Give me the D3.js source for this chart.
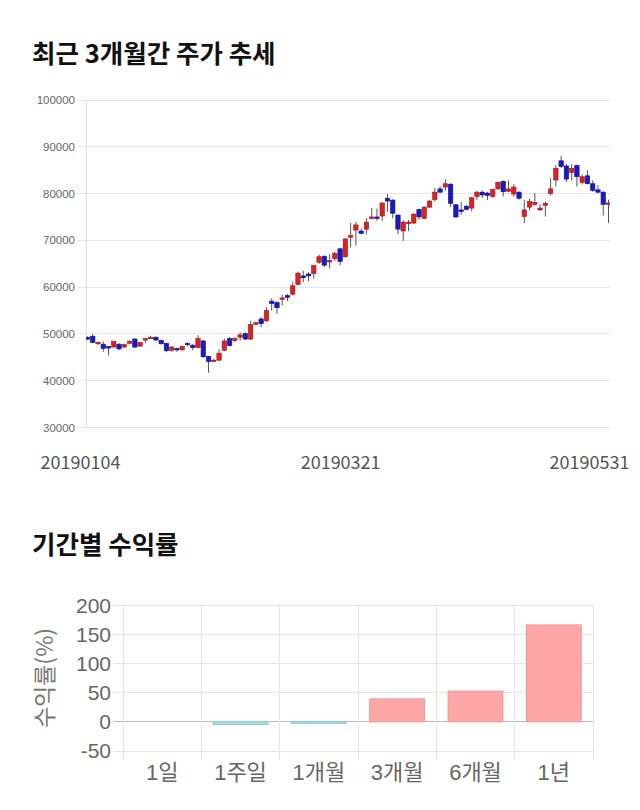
<!DOCTYPE html>
<html><head><meta charset="utf-8">
<script src="https://cdn.jsdelivr.net/npm/d3@7"></script>
<style>
html,body{margin:0;padding:0;background:#fff;}
svg{display:block;}
</style></head>
<body>
<svg id="c" width="640" height="810"></svg>
<script>
// ---------- data ----------
const dates = [
"20190104","20190107","20190108","20190109","20190110","20190111","20190114","20190115","20190116","20190117",
"20190118","20190121","20190122","20190123","20190124","20190125","20190128","20190129","20190130","20190131",
"20190201","20190207","20190208","20190211","20190212","20190213","20190214","20190215","20190218","20190219",
"20190220","20190221","20190222","20190225","20190226","20190227","20190228","20190304","20190305","20190306",
"20190307","20190308","20190311","20190312","20190313","20190314","20190315","20190318","20190319","20190320",
"20190321","20190322","20190325","20190326","20190327","20190328","20190329","20190401","20190402","20190403",
"20190404","20190405","20190408","20190409","20190410","20190411","20190412","20190415","20190416","20190417",
"20190418","20190419","20190422","20190423","20190424","20190425","20190426","20190429","20190430","20190502",
"20190503","20190507","20190508","20190509","20190510","20190513","20190514","20190515","20190516","20190517",
"20190520","20190521","20190522","20190523","20190524","20190527","20190528","20190529","20190530","20190531"];
const openP = [
49200,49500,48000,47800,47300,47200,47800,47200,48000,48900,
47400,48700,49100,49300,48600,48000,46500,46900,46600,48000,
47600,47100,48500,45200,44300,44400,46500,49000,48600,49300,
50100,48900,52100,53200,52800,57000,56700,57500,58200,58500,
60600,62400,62800,62900,65300,66600,65500,66100,68200,66500,
70900,72200,72000,72400,74700,75000,75200,79000,78600,75400,
72000,73800,73700,76600,74700,77100,78700,81000,81400,82000,
77600,76500,77300,76900,79400,80300,80100,79400,81000,82600,
80500,79900,80300,75100,77100,77700,76500,77500,80000,82900,
87000,85900,84500,86000,82400,83800,82100,80800,80300,77700];
const highP = [
49500,50000,48400,48400,47500,48600,48100,47900,48700,49100,
48300,49200,49600,49500,48800,48100,47400,47100,47500,48200,
47800,49700,48700,45300,44600,46700,49000,49300,49300,50300,
50300,52800,52600,53600,55700,57600,57000,58400,58500,61200,
63300,63500,63200,64800,67000,66800,67000,67600,68400,70500,
73700,74000,72500,74800,76900,76800,78000,79900,78800,75600,
74300,74400,75800,76800,77300,78600,81200,81600,83100,82200,
77800,78200,77600,79300,80600,80700,80400,81000,82600,82800,
82800,82000,80500,78600,78900,80100,77700,78300,83300,86100,
88100,86300,86300,86200,84100,85000,82800,81800,80500,78700];
const lowP = [
48700,48000,47700,46200,45400,47000,46500,47000,47800,46900,
47200,48000,48900,48500,47700,46100,46200,46200,46400,47400,
46500,46900,44900,41700,44100,44200,46300,47300,48300,48600,
48700,48700,51800,51500,52600,55000,54300,56100,57000,58200,
60400,61100,61300,61800,65000,64300,64000,65600,64700,66300,
68500,68900,71300,71300,74500,74200,74200,76100,74700,71300,
69900,72000,73500,74400,74500,76900,78300,80100,80600,77100,
74800,75500,76400,76200,78700,79100,78600,79100,80800,79400,
80300,79300,78700,73700,76400,77400,76300,75100,79600,81500,
85500,82500,82800,81500,82000,82000,80400,80000,75300,73700];
const closeP = [
49000,48200,48200,46900,47200,48400,46800,47700,48400,47200,
48200,49000,49300,48700,47900,46400,47200,46800,47300,47700,
47100,49000,45100,44100,44400,45900,48500,47500,49000,49800,
48900,52000,52400,52200,55000,56500,55600,57700,57800,60300,
63000,62000,62400,64600,66500,64700,65700,67200,65500,70300,
71000,73300,71500,73900,75000,74700,78000,78400,75800,72400,
73900,73900,75600,75000,77100,78400,80300,80300,82100,77900,
75000,76400,76600,79100,80300,79700,79600,80900,82400,80400,
81000,81400,79000,76500,78300,78100,76900,77900,81000,85400,
85800,83100,85400,83600,83600,82100,80700,80300,77700,78000];
const priceTicks = [30000,40000,50000,60000,70000,80000,90000,100000];
const dateLabels = ["20190104","20190321","20190531"];

const periods = ["1일","1주일","1개월","3개월","6개월","1년"];
const returns = [0, -4.5, -3, 39.4, 52.6, 166.3];
const returnTicks = [-50,0,50,100,150,200];

// ---------- drawing ----------
const svg = d3.select("#c");
const KR = "'Noto Sans CJK KR','Noto Sans',sans-serif";
const SANS = "'Liberation Sans',Arial,sans-serif";

svg.append("text").attr("x",32).attr("y",63).text("최근 3개월간 주가 추세")
  .attr("font-family",KR).attr("font-weight","bold").attr("font-size",25.5).attr("fill","#111");
svg.append("text").attr("x",32).attr("y",554).text("기간별 수익률")
  .attr("font-family",KR).attr("font-weight","bold").attr("font-size",25.5).attr("fill","#111");

// candlestick
const pl = 86, pr = 610, pt = 100, pb = 427.5;
const x = d3.scalePoint().domain(dates).range([87.5, 608.5]);
const y = d3.scaleLinear().domain([30000,100000]).range([pb, pt]);

const g1 = svg.append("g");
g1.selectAll("line.grid").data(priceTicks).join("line")
  .attr("x1",77).attr("x2",pr).attr("y1",d=>y(d)).attr("y2",d=>y(d))
  .attr("stroke","#e6e6e6").attr("stroke-width",1).attr("shape-rendering","crispEdges");
g1.append("line").attr("x1",pl).attr("x2",pl).attr("y1",pt).attr("y2",pb)
  .attr("stroke","#dcdcdc").attr("shape-rendering","crispEdges");
g1.selectAll("text.yt").data(priceTicks).join("text")
  .attr("x",75).attr("y",d=>y(d)).attr("dy","0.35em").attr("text-anchor","end")
  .attr("font-family",SANS).attr("font-size",11.5).attr("fill","#666").text(d=>d);

svg.append("clipPath").attr("id","cp").append("rect")
  .attr("x",pl).attr("y",pt-10).attr("width",pr-pl).attr("height",pb-pt+20);
const cg = svg.append("g").attr("clip-path","url(#cp)");
const idx = d3.range(dates.length);
cg.selectAll("line.w").data(idx).join("line")
  .attr("x1",i=>x(dates[i])).attr("x2",i=>x(dates[i]))
  .attr("y1",i=>y(highP[i])).attr("y2",i=>y(lowP[i]))
  .attr("stroke","#555").attr("stroke-width",1);
cg.selectAll("rect.b").data(idx).join("rect")
  .attr("x",i=>x(dates[i])-2.2).attr("width",4.4)
  .attr("y",i=>y(Math.max(openP[i],closeP[i])))
  .attr("height",i=>Math.max(1.5, Math.abs(y(openP[i])-y(closeP[i]))))
  .attr("fill",i=>closeP[i]>=openP[i]?"#d42424":"#1a1ac4")
  .attr("stroke",i=>closeP[i]>=openP[i]?"#a81515":"#10108c").attr("stroke-width",0.6);

const lblShift = [-7, -10, -19];
svg.selectAll("text.xt").data(dateLabels).join("text")
  .attr("x",(d,k)=>x(d)+lblShift[k]).attr("y",469).attr("text-anchor","middle")
  .attr("font-family",KR).attr("font-size",18).attr("fill","#555").text(d=>d);

// returns bar chart
const bl = 123, br = 593;
const xb = d3.scaleBand().domain(periods).range([bl, br]);
const yb = d3.scaleLinear().domain([-50,200]).range([751, 605.3]);
const g2 = svg.append("g");
g2.selectAll("line.h").data(returnTicks).join("line")
  .attr("x1",113).attr("x2",br).attr("y1",d=>yb(d)).attr("y2",d=>yb(d))
  .attr("stroke",d=>d===0?"#bdbdbd":"#e6e6e6").attr("shape-rendering","crispEdges");
const bounds = periods.map(p=>xb(p)).concat([br]);
g2.selectAll("line.v").data(bounds).join("line")
  .attr("x1",d=>d).attr("x2",d=>d).attr("y1",yb(200)).attr("y2",760)
  .attr("stroke","#e6e6e6").attr("shape-rendering","crispEdges");
g2.selectAll("rect.bar").data(periods).join("rect")
  .attr("x",p=>xb(p)+xb.bandwidth()*0.15).attr("width",xb.bandwidth()*0.7)
  .attr("y",(p,i)=>yb(Math.max(0,returns[i])))
  .attr("height",(p,i)=>Math.abs(yb(returns[i])-yb(0)))
  .attr("fill",(p,i)=>returns[i]>=0?"#ffa6a6":"#a8dfe9")
  .attr("stroke",(p,i)=>returns[i]>=0?"#f39696":"#8ccfdc").attr("stroke-width",1);
g2.selectAll("text.yt").data(returnTicks).join("text")
  .attr("x",111).attr("y",d=>yb(d)).attr("dy","0.35em").attr("text-anchor","end")
  .attr("font-family",SANS).attr("font-size",21).attr("fill","#666").text(d=>d);
g2.selectAll("text.xt").data(periods).join("text")
  .attr("x",p=>xb(p)+xb.bandwidth()/2).attr("y",780).attr("text-anchor","middle")
  .attr("font-family",SANS+","+KR).attr("font-size",22).attr("fill","#666").text(p=>p);
g2.append("text").attr("transform","translate(53,678) rotate(-90)")
  .attr("text-anchor","middle").attr("font-family",KR).attr("font-size",23)
  .attr("fill","#777").text("수익률(%)");
</script>
</body></html>
